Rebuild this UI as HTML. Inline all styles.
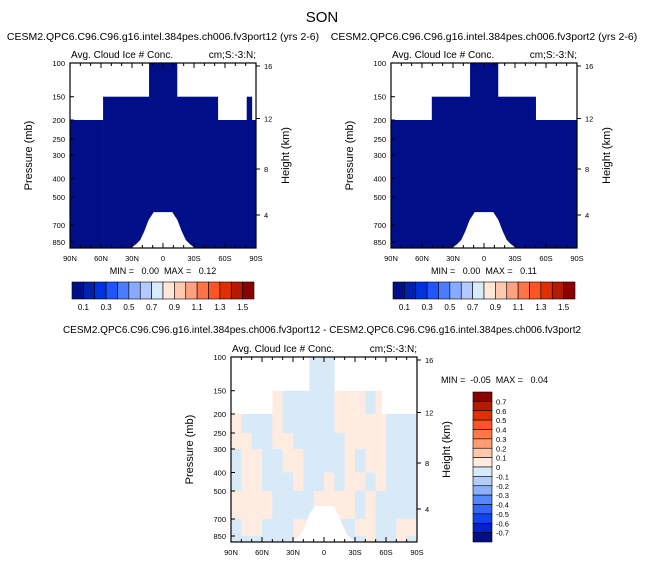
<!DOCTYPE html>
<html><head><meta charset="utf-8"><style>
body{margin:0;background:#fff;}
svg{display:block;font-family:"Liberation Sans",sans-serif;}
</style></head><body>
<svg id="c" width="645" height="565" viewBox="0 0 645 565"></svg>
<script>
// ---- data ----
const pTicks=[100,150,200,250,300,400,500,700,850];
const pTickOff=[0,33.7,57,76,92,115.5,134,162,179];
const hTicks=[16,12,8,4];
const hTickOff=[3,55.5,106,152];
const latTickLabels=["90N","60N","30N","0","30S","60S","90S"];
const latTicks=[90,60,30,0,-30,-60,-90];
// panel 1 cloud-top bands
const bandEdges1=[90,58,13.5,-13.5,-53,-81,-86,-90];
const bandTop1=[200,150,100,150,200,150,200];
const bandEdges2=[90,50.5,13.5,-13.5,-50,-90];
const bandTop2=[200,150,100,150,200];
// surface (white hump) boundary
const surfLat=[32,29,26,22,18,14,9,-9,-14,-18,-22,-26,-29,-32];
const surfP=[1000,960,900,830,750,660,600,600,660,750,830,900,960,1000];
const max1=0.12, max2=0.11;
const cbarColors14=["#000e88","#0022aa","#0033dd","#1f55ff","#4a7cff","#88aaff","#b3c9ff","#d8ebfa","#ffe8d8","#ffc8b0","#ffa080","#ff7446","#ff5522","#e03000","#b31a00","#8b0000"];
const cbarLabels14=["0.1","0.3","0.5","0.7","0.9","1.1","1.3","1.5"];
const cbarColors16=["#8b0000","#b31a00","#e03000","#ff5522","#ff7744","#ff9c72","#ffc8aa","#ffece0","#d8eaf8","#b5cdf8","#8bb0f8","#5588ff","#3366ff","#1144ee","#0022cc","#000e88"];
const cbarLabels16=["0.7","0.6","0.5","0.4","0.3","0.2","0.1","0","-0.1","-0.2","-0.3","-0.4","-0.5","-0.6","-0.7"];
// difference field: 18 lat columns (90N->90S, 10deg) x levels
const diffLevels=[100,150,200,250,300,400,500,700,850,1000];
const diffVals=[
 [0,0,0,0,0,0,0,-0.02,-0.02,-0.02,0,0,0,0,0,0,0,0],
 [0,0,0,0,0.02,-0.02,-0.02,-0.02,-0.02,-0.02,0.02,0.02,0.02,-0.02,0.02,0,0,0],
 [0.02,-0.02,-0.02,-0.02,0.02,-0.02,-0.02,-0.02,-0.02,-0.02,0.02,0.02,0.02,0.02,0.02,-0.02,-0.02,-0.02],
 [0.02,0.02,-0.02,-0.02,0.02,0.02,-0.02,-0.02,-0.02,-0.02,-0.02,0.02,0.02,0.02,0.02,-0.02,-0.02,-0.02],
 [-0.02,0.02,0.02,-0.02,-0.02,0.02,0.02,-0.02,-0.02,-0.02,-0.02,0.02,-0.02,0.02,0.02,-0.02,-0.02,-0.02],
 [-0.02,0.02,0.02,-0.02,-0.02,-0.02,0.02,-0.02,-0.02,0.02,-0.02,0.02,0.02,-0.02,0.02,-0.02,-0.02,-0.02],
 [0.02,0.02,0.02,0.02,-0.02,-0.02,-0.02,-0.02,0.02,0.02,0.02,0.02,-0.02,0.02,-0.02,-0.02,-0.02,-0.02],
 [-0.02,0.02,0.02,-0.02,-0.02,-0.02,0.02,0.02,-0.02,-0.02,-0.02,-0.02,0.02,0.02,-0.02,-0.02,0.02,0.02],
 [-0.02,-0.02,-0.02,-0.02,-0.02,-0.02,0.02,0.02,-0.02,-0.02,-0.02,-0.02,-0.02,0.02,-0.02,-0.02,0.02,-0.02]
];
const diffTopEdges=[90,50,14,-14,-56,-90];
const diffTopP=[200,150,100,150,200];

// ---- drawing ----
const svg=document.getElementById('c');
const NS='http://www.w3.org/2000/svg';
function mk(tag,attrs,parent){const e=document.createElementNS(NS,tag);for(const k in attrs)e.setAttribute(k,attrs[k]);(parent||svg).appendChild(e);return e;}
function txt(x,y,s,size,anchor,parent,rot){const t=mk('text',{x:x,y:y,'font-size':size,'text-anchor':anchor||'middle',fill:'#000'},parent);if(rot)t.setAttribute('transform','rotate(-90 '+x+' '+y+')');t.textContent=s;return t;}
const pAll=pTicks.concat([1000]);const offAll=pTickOff.concat([185]);
function yP(p,oy){for(let i=0;i<pAll.length-1;i++){if(p<=pAll[i+1]){const f=Math.log(p/pAll[i])/Math.log(pAll[i+1]/pAll[i]);return oy+offAll[i]+f*(offAll[i+1]-offAll[i]);}}return oy+185;}
function xL(lat,ox,w){return ox+(90-lat)/180*w;}

function axes(g,ox,oy,w,h){
  mk('rect',{x:ox,y:oy,width:w,height:h,fill:'none',stroke:'#000','stroke-width':1.2},g);
  pTicks.forEach((p,i)=>{const y=yP(p,oy);mk('line',{x1:ox,x2:ox+4,y1:y,y2:y,stroke:'#000'},g);
    const t=txt(ox-5,y+3,String(p),7.5,'end',g);});
  hTicks.forEach((hv,i)=>{const y=oy+hTickOff[i];mk('line',{x1:ox+w,x2:ox+w+4,y1:y,y2:y,stroke:'#000'},g);
    const t=txt(ox+w+8,y+3,String(hv),7.5,'start',g);});
  for(let lat=90;lat>=-90;lat-=10){const x=xL(lat,ox,w);const len=(lat%30===0)?5:3;
    mk('line',{x1:x,x2:x,y1:oy+h,y2:oy+h-len,stroke:'#000'},g);mk('line',{x1:x,x2:x,y1:oy,y2:oy+len,stroke:'#000'},g);}
  latTicks.forEach((lat,i)=>{const t=txt(xL(lat,ox,w),oy+h+13,latTickLabels[i],7.5,'middle',g);});
  const a=txt(ox-38,oy+h/2,'Pressure (mb)',11,'middle',g,true);
  const b=txt(ox+w+33,oy+h/2,'Height (km)',11,'middle',g,true);
  const c=txt(ox+1,oy-5,'Avg. Cloud Ice # Conc.',10,'start',g);
  const d=txt(ox+w,oy-5,'cm;S:-3:N;',10,'end',g);
}
function surface(g,ox,oy,w){
  let pts=surfLat.map((l,i)=>xL(l,ox,w)+','+yP(surfP[i],oy));
  const el=mk('polygon',{points:pts.join(' '),fill:'#fff'},g);
  
}
function topPanel(ox,oy,w,h,edges,tops,maxv,title,name){
  const g=mk('g',{});
  for(let i=0;i<tops.length;i++){const x1=xL(edges[i],ox,w),x2=xL(edges[i+1],ox,w);const y1=yP(tops[i],oy);
    const r=mk('rect',{x:x1,y:y1,width:x2-x1+0.3,height:oy+h-y1,fill:'#000e88'},g);
    }
  surface(g,ox,oy,w);
  axes(g,ox,oy,w,h);
  const t=txt(ox+w/2,oy-23,title,10.5,'middle',g);
  const m=txt(ox+w/2,oy+h+26,'MIN =   0.00  MAX =   '+maxv.toFixed(2),9,'middle',g);
  m.style.whiteSpace='pre';
  // colorbar
  const cx=ox+2,cw=w-4,cy=282,ch=17,bw=cw/16;
  cbarColors14.forEach((c,i)=>{const r=mk('rect',{x:cx+i*bw,y:cy,width:bw,height:ch,fill:c,stroke:'#000','stroke-width':0.6},g);
    });
  cbarLabels14.forEach((s,i)=>{const l=txt(cx+(2*i+1)*bw,cy+ch+11,s,8,'middle',g);});
}
function diffColor(v){const bins=[-0.7,-0.6,-0.5,-0.4,-0.3,-0.2,-0.1,0,0.1,0.2,0.3,0.4,0.5,0.6,0.7];let idx=0;while(idx<bins.length&&v>bins[idx])idx++;return cbarColors16[15-idx];}

const st=txt(322,22,'SON',15,'middle');
topPanel(70,63,186,185,bandEdges1,bandTop1,max1,'CESM2.QPC6.C96.C96.g16.intel.384pes.ch006.fv3port12 (yrs 2-6)','panel-port12');
topPanel(391,63,186,185,bandEdges2,bandTop2,max2,'CESM2.QPC6.C96.C96.g16.intel.384pes.ch006.fv3port2 (yrs 2-6)','panel-port2');

// diff panel
(function(){
  const ox=231,oy=357,w=186,h=185;
  const g=mk('g',{});
  for(let r=0;r<diffVals.length;r++){for(let c=0;c<18;c++){const v=diffVals[r][c];if(v===0)continue;
    const lat1=90-c*10,lat2=lat1-10;const x1=xL(lat1,ox,w),x2=xL(lat2,ox,w);
    const y1=yP(diffLevels[r],oy),y2=yP(diffLevels[r+1],oy);
    const cell=mk('rect',{x:x1,y:y1,width:x2-x1+0.3,height:y2-y1+0.3,fill:diffColor(v)},g);
    }}
  // mask above cloud top
  for(let i=0;i<diffTopP.length;i++){const x1=xL(diffTopEdges[i],ox,w),x2=xL(diffTopEdges[i+1],ox,w);
    const mr=mk('rect',{x:x1,y:oy,width:x2-x1,height:yP(diffTopP[i],oy)-oy,fill:'#fff'},g);}
  surface(g,ox,oy,w);
  axes(g,ox,oy,w,h);
  const t=txt(322,333,'CESM2.QPC6.C96.C96.g16.intel.384pes.ch006.fv3port12 - CESM2.QPC6.C96.C96.g16.intel.384pes.ch006.fv3port2',10,'middle',g);
  
  const m=txt(441,383,'MIN =  -0.05  MAX =   0.04',9,'start',g);m.style.whiteSpace='pre';
  
  const cx=473,cy=392,cw=19,bh=150/16;
  cbarColors16.forEach((c,i)=>{const r=mk('rect',{x:cx,y:cy+i*bh,width:cw,height:bh,fill:c,stroke:'#000','stroke-width':0.6},g);
    });
  cbarLabels16.forEach((s,i)=>{const l=txt(cx+cw+4,cy+(i+1)*bh+3,s,7.5,'start',g);});
})();
</script>
</body></html>
